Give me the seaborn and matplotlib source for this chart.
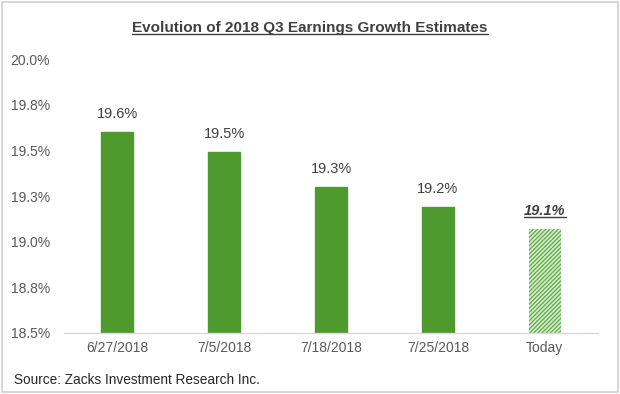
import matplotlib
matplotlib.use("Agg")
import matplotlib.pyplot as plt
import seaborn as sns
import pandas as pd
from decimal import Decimal, ROUND_HALF_UP
from matplotlib.lines import Line2D
from matplotlib.patches import Rectangle

# data
dates = ["6/27/2018", "7/5/2018", "7/18/2018", "7/25/2018", "Today"]
growth = [19.60, 19.49, 19.30, 19.19, 19.07]
y_ticks = [18.5, 18.75, 19.0, 19.25, 19.5, 19.75, 20.0]

df = pd.DataFrame({"date": dates, "growth": growth})


def pct(v):
    # excel style rounding (19.25 -> 19.3)
    return str(Decimal(str(v)).quantize(Decimal("0.1"), rounding=ROUND_HALF_UP)) + "%"


sns.set_theme(style="white")
plt.rcParams["font.family"] = ["Liberation Sans", "DejaVu Sans"]
plt.rcParams["hatch.linewidth"] = 0.9

fig = plt.figure(figsize=(6.2, 3.94), dpi=100)
ax = fig.add_axes([0.103, 0.155, 0.862, 0.695])

sns.barplot(data=df, x="date", y="growth", color="#4E9A2E", width=0.3,
            saturation=1, ax=ax)

# last bar ("Today") is hatched
last = ax.patches[-1]
last.set_facecolor("#d6edcc")
last.set_edgecolor("#5fa948")
last.set_hatch("////////")
last.set_linewidth(0)
for p in ax.patches[:-1]:
    p.set_edgecolor("#4E9A2E")

ax.set_ylim(18.5, 20.0)
ax.set_xlim(-0.5, 4.5)
ax.set_yticks(y_ticks)
ax.set_yticklabels([pct(t) for t in y_ticks])
ax.tick_params(axis="both", length=0, labelsize=10, colors="#595959")
ax.tick_params(axis="x", pad=6)
ax.tick_params(axis="y", pad=10)
ax.set_xlabel("")
ax.set_ylabel("")
for s in ["top", "right", "left"]:
    ax.spines[s].set_visible(False)
ax.spines["bottom"].set_color("#d9d9d9")
ax.spines["bottom"].set_linewidth(1)

# value labels
labels = []
for i, v in enumerate(growth):
    if i == len(growth) - 1:
        t = ax.annotate(pct(v), (i, v), xytext=(0, 8), textcoords="offset points",
                        ha="center", va="bottom", fontsize=10.5, color="#404040",
                        fontweight="bold", fontstyle="italic")
        labels.append(t)
    else:
        ax.annotate(pct(v), (i, v), xytext=(0, 8), textcoords="offset points",
                    ha="center", va="bottom", fontsize=10.5, color="#404040")

title = fig.text(0.5, 0.93, "Evolution of 2018 Q3 Earnings Growth Estimates",
                 ha="center", va="center", fontsize=11, fontweight="bold",
                 color="#404040")
fig.text(0.023, 0.036, "Source: Zacks Investment Research Inc.", ha="left",
         va="center", fontsize=9.8, color="#262626")

# underline title and last label
fig.canvas.draw()
r = fig.canvas.get_renderer()
for t in [title] + labels:
    bb = t.get_window_extent(r).transformed(fig.transFigure.inverted())
    fig.add_artist(Line2D([bb.x0, bb.x1], [bb.y0 + 0.002, bb.y0 + 0.002],
                          transform=fig.transFigure, color="#404040", lw=1))

# light frame around the picture
fig.add_artist(Rectangle((0.004, 0.006), 0.992, 0.988, transform=fig.transFigure,
                         fill=False, edgecolor="#d0d0d0", lw=1.2))

fig.savefig("out.png", dpi=100)
